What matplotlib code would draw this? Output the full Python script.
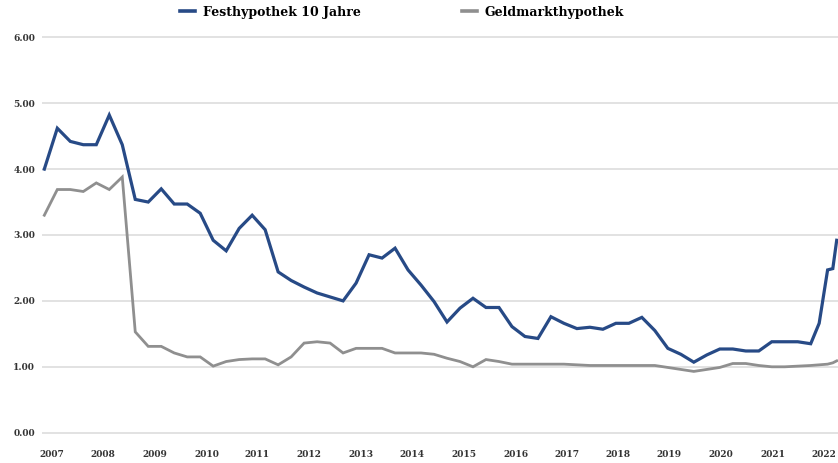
# ---------------------------------------------------------------------------------------------- #
# Plot generation script: Festhypothek vs. Geldmarkthypothek, 2007 - 2022.
# ---------------------------------------------------------------------------------------------- #
import matplotlib
matplotlib.use('Agg')
import matplotlib.pyplot as plt
from matplotlib.lines import Line2D

# ---------------------------------------------------------------------------------------------- #
# We define each data set (quarterly index, with a few monthly points at the end).
# ---------------------------------------------------------------------------------------------- #
Quarters = list(range(60)) + [59.65, 60.3, 60.7, 61.0]

Fest_Vals = [
    4.00, 4.62, 4.42, 4.37, 4.37, 4.82, 4.37, 3.54, 3.50, 3.70,
    3.47, 3.47, 3.33, 2.92, 2.76, 3.10, 3.30, 3.08, 2.44, 2.31,
    2.21, 2.12, 2.06, 2.00, 2.27, 2.70, 2.65, 2.80, 2.47, 2.24,
    1.99, 1.68, 1.89, 2.04, 1.90, 1.90, 1.61, 1.46, 1.43, 1.76,
    1.66, 1.58, 1.60, 1.57, 1.66, 1.66, 1.75, 1.55, 1.28, 1.19,
    1.07, 1.18, 1.27, 1.27, 1.24, 1.24, 1.38, 1.38, 1.38, 1.35,
    1.66, 2.47, 2.49, 2.92,
]
Geld_Vals = [
    3.30, 3.69, 3.69, 3.66, 3.79, 3.69, 3.88, 1.53, 1.31, 1.31,
    1.21, 1.15, 1.15, 1.01, 1.08, 1.11, 1.12, 1.12, 1.03, 1.15,
    1.36, 1.38, 1.36, 1.21, 1.28, 1.28, 1.28, 1.21, 1.21, 1.21,
    1.19, 1.13, 1.08, 1.00, 1.11, 1.08, 1.04, 1.04, 1.04, 1.04,
    1.04, 1.03, 1.02, 1.02, 1.02, 1.02, 1.02, 1.02, 0.99, 0.96,
    0.93, 0.96, 0.99, 1.05, 1.05, 1.02, 1.00, 1.00, 1.01, 1.02,
    1.03, 1.04, 1.06, 1.09,
]

Year_Labels = ['2007', '2008', '2009', '2010', '2011', '2012', '2013', '2014',
               '2015', '2016', '2017', '2018', '2019', '2020', '2021', '2022']
Year_Pos = [0.6, 4.5, 8.5, 12.5, 16.4, 20.4, 24.4, 28.3,
            32.3, 36.3, 40.2, 44.2, 48.1, 52.1, 56.1, 60.0]
Y_Ticks = [0, 1, 2, 3, 4, 5, 6]

# ---------------------------------------------------------------------------------------------- #
# We define plot properties.
# ---------------------------------------------------------------------------------------------- #
FontType = 'DejaVu Serif'
Colors = ['#274a86', '#8f8f8f']
Labels = ['Festhypothek 10 Jahre', 'Geldmarkthypothek']

# ---------------------------------------------------------------------------------------------- #
# We plot.
# ---------------------------------------------------------------------------------------------- #
fig = plt.figure(figsize = (8.38, 4.63), dpi = 100)
ax = fig.add_axes([0.0501, 0.0512, 0.9499, 0.8825])

ax.plot(Quarters, Geld_Vals, c = Colors[1], lw = 2.0, solid_joinstyle = 'miter', zorder = 3)
ax.plot(Quarters, Fest_Vals, c = Colors[0], lw = 2.3, solid_joinstyle = 'miter', zorder = 4)

# We configure.
ax.set_xlim([-0.18, 61.1])
ax.set_ylim([-0.1, 6.1])
ax.set_yticks(Y_Ticks)
ax.set_yticklabels(['%.2f' % v for v in Y_Ticks])
ax.set_xticks(Year_Pos)
ax.set_xticklabels(Year_Labels)
ax.grid(axis = 'y', color = '#e2e2e2', lw = 1.4, zorder = 0)
for s in ax.spines.values():
    s.set_visible(False)
ax.tick_params(axis = 'both', length = 0, labelsize = 6.5, labelcolor = '#333333')
ax.tick_params(axis = 'y', pad = 5)
ax.tick_params(axis = 'x', pad = 8)
for t in ax.get_xticklabels() + ax.get_yticklabels():
    t.set_fontname(FontType)
    t.set_fontweight('bold')

# We add the legend.
Handles = [Line2D([0], [0], c = Colors[0], lw = 2.6),
           Line2D([0], [0], c = Colors[1], lw = 2.6)]
fig.legend(Handles, Labels, loc = 'center', bbox_to_anchor = (0.48, 0.974), ncol = 2,
           frameon = False, handlelength = 1.2, handletextpad = 0.6, columnspacing = 8.1,
           prop = {'family': FontType, 'weight': 'bold', 'size': 9})

fig.savefig('out.png', dpi = 100)
# ---------------------------------------------------------------------------------------------- #
